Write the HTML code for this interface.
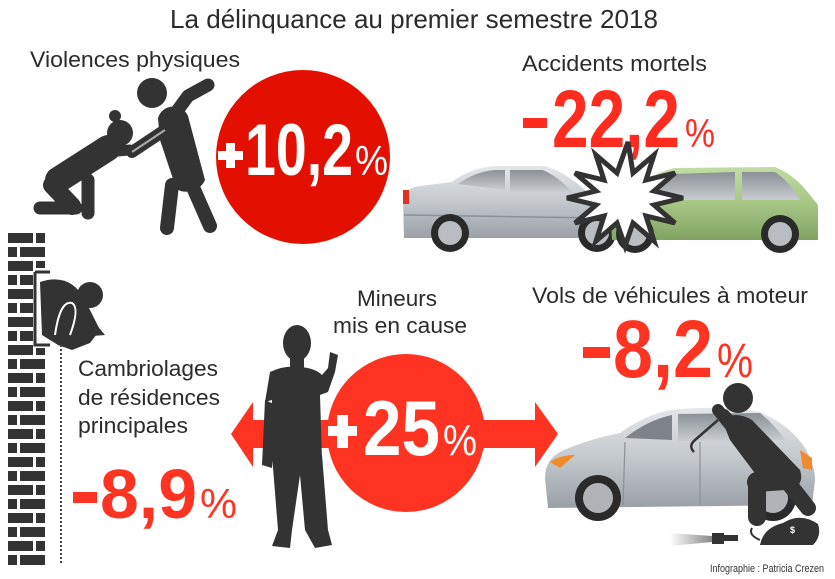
<!DOCTYPE html>
<html><head><meta charset="utf-8"><style>
html,body{margin:0;padding:0;background:#fff;}
svg{display:block;}
text{font-family:"Liberation Sans",sans-serif;}
</style></head><body>
<svg width="835" height="579" viewBox="0 0 835 579" xmlns="http://www.w3.org/2000/svg">
<defs>
<linearGradient id="silver" x1="0" y1="0" x2="0" y2="1"><stop offset="0" stop-color="#e4e7ea"/><stop offset="0.5" stop-color="#c3c8cd"/><stop offset="1" stop-color="#9aa0a6"/></linearGradient>
<linearGradient id="green" x1="0" y1="0" x2="0" y2="1"><stop offset="0" stop-color="#c2dba4"/><stop offset="0.5" stop-color="#a6c684"/><stop offset="1" stop-color="#82a463"/></linearGradient>
<linearGradient id="win" x1="0" y1="0" x2="0" y2="1"><stop offset="0" stop-color="#8a9096"/><stop offset="1" stop-color="#c9cdd1"/></linearGradient>
<linearGradient id="beam" x1="0" y1="0" x2="1" y2="0"><stop offset="0" stop-color="#fff"/><stop offset="1" stop-color="#888"/></linearGradient>
<pattern id="bricks" x="8" y="233" width="37" height="28" patternUnits="userSpaceOnUse">
<rect x="0" y="0" width="25" height="10" fill="#333"/><rect x="28" y="0" width="9" height="10" fill="#333"/>
<rect x="0" y="14" width="9" height="10" fill="#333"/><rect x="12" y="14" width="25" height="10" fill="#333"/>
</pattern>
</defs>

<!-- Title -->
<text x="170" y="28" font-size="26" fill="#2b2b2b" textLength="488" lengthAdjust="spacingAndGlyphs">La délinquance au premier semestre 2018</text>

<!-- Violences physiques -->
<text x="30" y="67" font-size="22" fill="#2b2b2b" textLength="210" lengthAdjust="spacingAndGlyphs">Violences physiques</text>
<g fill="#333" stroke="#333" stroke-linecap="round" stroke-linejoin="round">
  <circle cx="152" cy="93" r="15" stroke="none"/>
  <path d="M172,118 L188,96 L208,85" fill="none" stroke-width="13"/>
  <path d="M158,118 C162,104 182,102 188,116 L205,180 C200,192 182,195 176,188 L160,140 Z" stroke="none"/>
  <line x1="172" y1="185" x2="167" y2="228" stroke-width="14"/>
  <line x1="192" y1="185" x2="210" y2="226" stroke-width="14"/>
  <line x1="165" y1="130" x2="132" y2="152" stroke-width="12"/>
  <circle cx="120" cy="133" r="13" stroke="none"/>
  <circle cx="115" cy="116" r="6" stroke="none"/>
  <line x1="108" y1="148" x2="58" y2="180" stroke-width="26"/>
  <line x1="52" y1="185" x2="72" y2="206" stroke-width="18"/>
  <line x1="88" y1="180" x2="88" y2="213" stroke-width="13"/>
  <line x1="40" y1="208" x2="76" y2="208" stroke-width="13"/>
  <line x1="105" y1="152" x2="130" y2="150" stroke-width="11"/>
</g>
<path d="M132,152 L165,130" stroke="#fff" stroke-width="2" fill="none" opacity="0.6"/>
<circle cx="303" cy="157" r="87" fill="#e30f00"/>
<rect x="218" y="151" width="25" height="9" fill="#fff"/>
<rect x="226" y="143" width="9" height="25" fill="#fff"/>
<text x="245" y="175" font-size="73" font-weight="bold" fill="#fff" textLength="108" lengthAdjust="spacingAndGlyphs">10,2</text>
<text x="355" y="175" font-size="42" fill="#fff" textLength="33" lengthAdjust="spacingAndGlyphs">%</text>

<!-- Accidents mortels -->
<text x="522" y="71" font-size="22" fill="#2b2b2b" textLength="185" lengthAdjust="spacingAndGlyphs">Accidents mortels</text>
<rect x="523" y="118" width="24" height="10" fill="#ff2b1f"/>
<text x="552" y="147" font-size="82" font-weight="bold" fill="#ff2b1f" textLength="128" lengthAdjust="spacingAndGlyphs">22,2</text>
<text x="685" y="147" font-size="40" fill="#ff2b1f" textLength="30" lengthAdjust="spacingAndGlyphs">%</text>

<!-- sedan -->
<path d="M403,200 Q404,188 420,186 L452,182 Q470,168 495,166 L545,166 Q565,172 585,190 L596,198 L598,238 L404,238 Z" fill="url(#silver)"/>
<path d="M458,184 Q474,172 495,170 L505,170 L505,190 Z" fill="url(#win)"/>
<path d="M510,170 L543,170 Q560,178 572,192 L510,192 Z" fill="url(#win)"/>
<rect x="403" y="190" width="6" height="14" fill="#d32" />
<path d="M404,215 L598,218" stroke="#8a9096" stroke-width="1.5"/>
<circle cx="450" cy="233" r="19" fill="#2a2a2a"/><circle cx="450" cy="233" r="12" fill="#b9bdc1"/>
<circle cx="597" cy="233" r="19" fill="#2a2a2a"/><circle cx="597" cy="233" r="12" fill="#b9bdc1"/>
<!-- green hatch -->
<path d="M610,200 Q615,190 640,186 Q655,172 675,168 L775,167 Q795,175 810,195 L818,205 L818,240 L612,240 Z" fill="url(#green)"/>
<path d="M672,174 L735,172 L735,200 L655,200 Q660,185 672,174 Z" fill="url(#win)"/>
<path d="M742,172 L775,172 Q790,182 800,200 L742,200 Z" fill="url(#win)"/>
<circle cx="635" cy="234" r="19" fill="#2a2a2a"/><circle cx="635" cy="234" r="12" fill="#b9bdc1"/>
<circle cx="780" cy="234" r="19" fill="#2a2a2a"/><circle cx="780" cy="234" r="12" fill="#b9bdc1"/>
<polygon points="683,198 654,205 675,223 646,216 654,241 633,223 625,246 617,223 596,241 604,216 575,223 596,205 567,198 596,191 575,173 604,180 596,155 617,173 628,142 633,173 654,155 646,180 675,173 654,191" fill="#fff" stroke="#333" stroke-width="5" stroke-linejoin="miter"/>

<!-- Wall & burglar -->
<rect x="8" y="233" width="37" height="333" fill="url(#bricks)"/>
<rect x="33" y="268" width="14" height="80" fill="#fff"/>
<path d="M35,272 L50,272 M35,272 L35,345 L50,345" stroke="#333" stroke-width="3" fill="none"/>
<path d="M40,282 Q70,272 85,300 L100,330 L90,343 L72,350 L58,345 L42,335 Z" fill="#333"/>
<circle cx="90" cy="295" r="13" fill="#333"/>
<path d="M55,335 Q60,300 72,303 Q80,308 70,335" stroke="#fff" stroke-width="2" fill="none"/>
<polygon points="95,323 105,335 92,336" fill="#333"/>
<line x1="61" y1="345" x2="61" y2="565" stroke="#444" stroke-width="2" stroke-dasharray="2,2"/>

<!-- Cambriolages -->
<text x="78" y="376" font-size="22" fill="#2b2b2b" textLength="140" lengthAdjust="spacingAndGlyphs">Cambriolages</text>
<text x="78" y="405" font-size="22" fill="#2b2b2b" textLength="142" lengthAdjust="spacingAndGlyphs">de résidences</text>
<text x="78" y="433" font-size="22" fill="#2b2b2b" textLength="110" lengthAdjust="spacingAndGlyphs">principales</text>
<rect x="73" y="492" width="24" height="11" fill="#ff3322"/>
<text x="100" y="518" font-size="70" font-weight="bold" fill="#ff3322" textLength="97" lengthAdjust="spacingAndGlyphs">8,9</text>
<text x="200" y="518" font-size="42" fill="#ff3322" textLength="37" lengthAdjust="spacingAndGlyphs">%</text>

<!-- Mineurs -->
<text x="357" y="306" font-size="22" fill="#2b2b2b" textLength="80" lengthAdjust="spacingAndGlyphs">Mineurs</text>
<text x="333" y="333" font-size="22" fill="#2b2b2b" textLength="134" lengthAdjust="spacingAndGlyphs">mis en cause</text>
<polygon points="231,434 253,402 253,420 535,420 535,402 558,434 535,467 535,448 253,448 253,467" fill="#ff3322"/>
<circle cx="406" cy="433" r="79" fill="#ff3322"/>
<rect x="328" y="426" width="29" height="10" fill="#fff"/>
<rect x="337" y="415" width="11" height="33" fill="#fff"/>
<text x="363" y="455" font-size="78" font-weight="bold" fill="#fff" textLength="77" lengthAdjust="spacingAndGlyphs">25</text>
<text x="443" y="455" font-size="44" fill="#fff" textLength="34" lengthAdjust="spacingAndGlyphs">%</text>
<!-- boy -->
<g fill="#333">
  <ellipse cx="297" cy="343" rx="14" ry="18"/>
  <rect x="290" y="355" width="14" height="14"/>
  <path d="M270,372 Q285,365 300,367 Q315,368 322,375 L328,368 L330,352 L338,355 L335,372 L328,392 L320,395 L322,460 L270,460 L272,400 L265,402 Z"/>
  <path d="M265,400 L262,465 L272,468 L276,405 Z"/>
  <path d="M272,455 L322,455 L328,530 L332,545 L315,548 L305,530 L300,475 L292,530 L290,548 L272,546 L278,530 Z"/>
</g>

<!-- Vols -->
<text x="532" y="303" font-size="22" fill="#2b2b2b" textLength="276" lengthAdjust="spacingAndGlyphs">Vols de véhicules à moteur</text>
<rect x="583" y="347" width="27" height="11" fill="#ff3322"/>
<text x="613" y="377" font-size="82" font-weight="bold" fill="#ff3322" textLength="100" lengthAdjust="spacingAndGlyphs">8,2</text>
<text x="717" y="377" font-size="48" fill="#ff3322" textLength="36" lengthAdjust="spacingAndGlyphs">%</text>
<!-- car -->
<path d="M545,478 Q545,460 560,452 Q585,440 620,433 Q645,415 670,410 Q720,405 760,412 Q790,425 805,448 Q815,465 815,480 L812,505 L548,508 Z" fill="url(#silver)"/>
<path d="M625,438 Q648,420 672,415 L672,440 Z" fill="#7d8389"/>
<path d="M678,414 L760,413 Q775,425 785,440 L678,441 Z" fill="url(#win)"/>
<path d="M550,462 Q560,455 575,455 L560,468 Z" fill="#f08a2a"/>
<path d="M800,450 L812,458 L812,470 L803,468 Z" fill="#f08a2a"/>
<path d="M625,442 L623,505 M700,442 L700,505" stroke="#8a9096" stroke-width="1.2"/>
<circle cx="598" cy="498" r="23" fill="#2a2a2a"/><circle cx="598" cy="498" r="15" fill="#b0b4b8"/>
<circle cx="773" cy="498" r="23" fill="#2a2a2a"/><circle cx="773" cy="498" r="15" fill="#b0b4b8"/>
<!-- thief -->
<g fill="#333" stroke="#333" stroke-linecap="round" stroke-linejoin="round">
  <circle cx="738" cy="398" r="15" stroke="none"/>
  <path d="M722,420 Q735,410 752,420 L800,470 Q805,485 790,490 L760,480 L730,440 Z" stroke="none"/>
  <line x1="785" y1="480" x2="757" y2="482" stroke-width="20"/>
  <line x1="757" y1="482" x2="757" y2="517" stroke-width="18"/>
  <line x1="790" y1="485" x2="808" y2="508" stroke-width="16"/>
  <line x1="730" y1="425" x2="718" y2="410" stroke-width="12"/>
  <line x1="738" y1="430" x2="724" y2="415" stroke-width="12"/>
</g>
<path d="M718,420 L695,440 Q688,446 694,452" stroke="#333" stroke-width="2.5" fill="none"/>
<polygon points="670,533 712,536 712,542 670,546" fill="url(#beam)"/>
<rect x="712" y="533" width="12" height="11" fill="#333"/>
<rect x="724" y="535" width="14" height="6" fill="#333"/>
<path d="M760,545 Q763,528 783,523 Q800,512 818,524 Q822,536 813,545 Z" fill="#333"/>
<path d="M760,540 Q748,535 752,528" stroke="#333" stroke-width="2" fill="none"/>
<text x="790" y="533" font-size="9" font-weight="bold" fill="#fff">$</text>
<text x="710" y="572" font-size="11" fill="#333" textLength="114" lengthAdjust="spacingAndGlyphs">Infographie : Patricia Crezen</text>
</svg>
</body></html>
